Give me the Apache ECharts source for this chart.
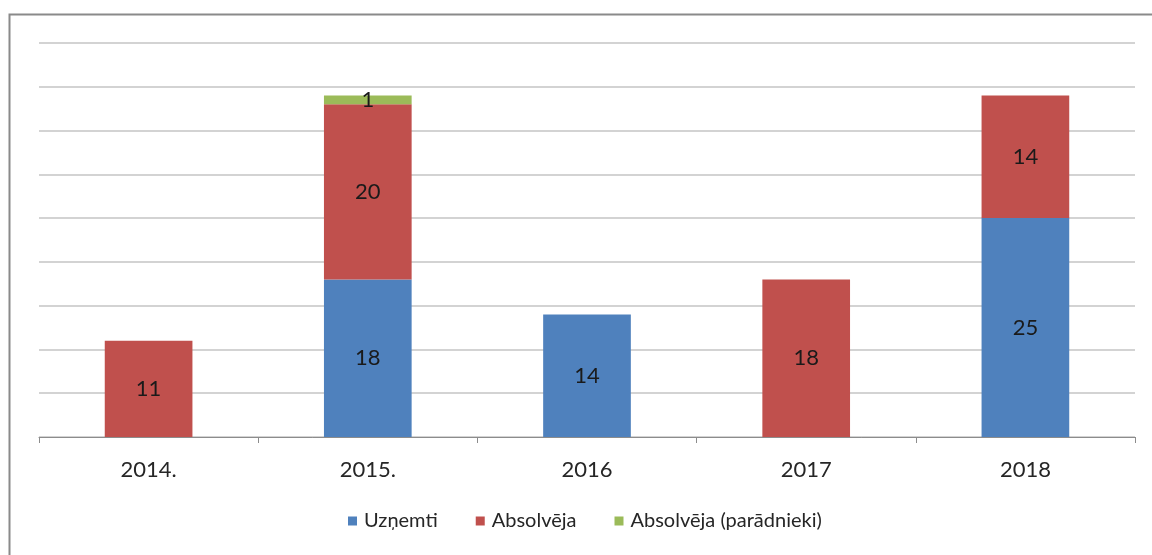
<!DOCTYPE html>
<html>
<head>
<meta charset="utf-8">
<script src="https://cdn.jsdelivr.net/npm/echarts@6/dist/echarts.min.js"></script>
<style>
html,body{margin:0;padding:0;background:#fff;}
#c{width:1152px;height:555px;}
</style>
</head>
<body>
<div id="c"></div>
<script>
const categories = ['2014.', '2015.', '2016', '2017', '2018'];
const uznemti = [null, 18, 14, null, 25];
const absolveja = [11, 20, null, 18, 14];
const paradnieki = [null, 1, null, null, null];
const seriesNames = ['Uzņemti', 'Absolvēja', 'Absolvēja (parādnieki)'];
const colors = ['#4F81BD', '#C0504D', '#9BBB59'];

const font = 'Lato, "Noto Sans", sans-serif';
const chart = echarts.init(document.getElementById('c'), null, {renderer: 'canvas'});
const mk = (name, data, color) => ({
  name: name,
  type: 'bar',
  stack: 'total',
  data: data,
  barWidth: '40%',
  itemStyle: {color: color},
  label: {show: true, position: 'inside', color: '#1a1a1a', fontSize: 22, fontFamily: font,
    formatter: p => (p.value == null ? '' : p.value)},
  emphasis: {disabled: true}
});
chart.setOption({
  animation: false,
  backgroundColor: '#fff',
  graphic: [{
    type: 'rect', shape: {x: 9.5, y: 14.5, width: 1300, height: 700},
    style: {fill: null, stroke: '#8a8a8a', lineWidth: 2}, silent: true, z: -1
  }],
  grid: {left: 39, right: 17, top: 43, bottom: 118, containLabel: false},
  legend: {
    bottom: 19, left: 343, itemWidth: 9, itemHeight: 9, itemGap: 38,
    icon: 'rect',
    textStyle: {fontSize: 20, fontFamily: font, color: '#262626', padding: [0, 0, 0, 2]},
    data: seriesNames
  },
  xAxis: {
    type: 'category', data: categories, boundaryGap: true,
    axisLine: {lineStyle: {color: '#8c8c8c', width: 1}},
    axisTick: {show: true, length: 6, lineStyle: {color: '#8c8c8c'}},
    axisLabel: {fontSize: 22, fontFamily: font, color: '#262626', margin: 22}
  },
  yAxis: {
    type: 'value', min: 0, max: 45, interval: 5,
    axisLabel: {show: false}, axisLine: {show: false}, axisTick: {show: false},
    splitLine: {lineStyle: {color: '#c4c4c4', width: 1.5}}
  },
  series: [
    mk(seriesNames[0], uznemti, colors[0]),
    mk(seriesNames[1], absolveja, colors[1]),
    mk(seriesNames[2], paradnieki, colors[2])
  ]
});
</script>
</body>
</html>
